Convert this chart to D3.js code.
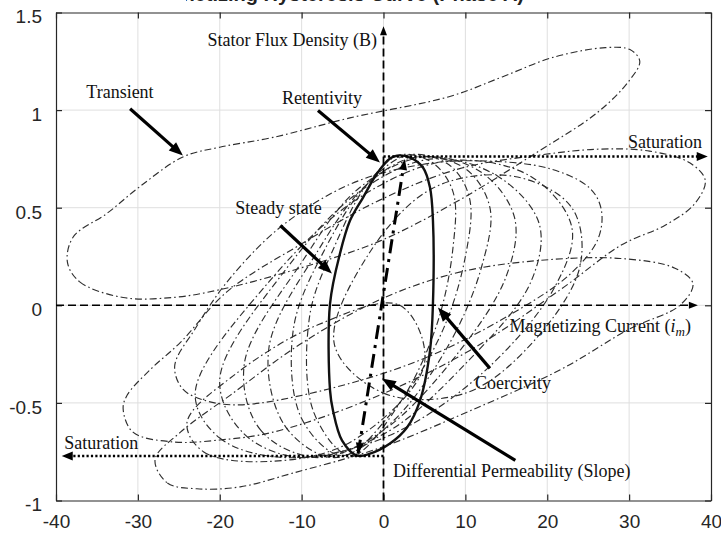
<!DOCTYPE html>
<html>
<head>
<meta charset="utf-8">
<script src="https://cdn.jsdelivr.net/npm/d3@7"></script>
<style>
  body { margin: 0; background: #fff; }
  svg { display: block; }
</style>
</head>
<body>
<div id="chart"></div>
<script>
// axis ticks
const xTicks = [-40, -30, -20, -10, 0, 10, 20, 30, 40];
const xTickLabels = ["-40", "-30", "-20", "-10", "0", "10", "20", "30", "40"];
const yTicks = [-1, -0.5, 0, 0.5, 1, 1.5];
const yTickLabels = ["-1", "-0.5", "0", "0.5", "1", "1.5"];

// transient loops (dash-dot) as [current, flux]
const loopT1 = [[-38.6, 0.22], [-37.1, 0.12], [-31.8, 0.04], [-25.7, 0.04], [-20.0, 0.08], [-10.2, 0.19], [-0.4, 0.33], [9.3, 0.54], [18.6, 0.78], [26.2, 0.99], [30.0, 1.15], [31.3, 1.25], [30.1, 1.31], [27.1, 1.32], [20.7, 1.27], [14.5, 1.17], [8.1, 1.07], [-4.1, 0.96], [-13.5, 0.86], [-20.0, 0.81], [-24.5, 0.76], [-29.7, 0.61], [-33.8, 0.47], [-37.9, 0.35]];
const loopT2 = [[-31.8, -0.53], [-30.6, -0.65], [-25.7, -0.70], [-20.0, -0.69], [-13.5, -0.65], [-1.6, -0.48], [10.6, -0.23], [21.6, 0.08], [29.1, 0.31], [34.4, 0.41], [38.0, 0.52], [39.3, 0.64], [37.4, 0.73], [32.5, 0.79], [26.4, 0.80], [19.1, 0.77], [9.3, 0.70], [-0.4, 0.54], [-10.2, 0.31], [-19.1, 0.07], [-24.8, -0.19], [-28.5, -0.33], [-31.3, -0.46]];
const loopT3 = [[-27.9, -0.79], [-26.4, -0.91], [-22.8, -0.94], [-17.5, -0.93], [-11.1, -0.86], [-0.4, -0.73], [10.6, -0.54], [21.6, -0.33], [30.1, -0.12], [36.2, 0.0], [37.8, 0.11], [35.6, 0.19], [28.9, 0.24], [19.1, 0.23], [9.3, 0.17], [-0.4, 0.03], [-10.2, -0.20], [-18.7, -0.46], [-24.8, -0.65]];
const loopT4 = [[-25.5, -0.31], [-24.5, -0.43], [-21.6, -0.49], [-17.5, -0.51], [-7.8, -0.44], [4.5, -0.28], [15.4, -0.05], [22.8, 0.16], [26.2, 0.34], [26.6, 0.49], [25.2, 0.60], [20.3, 0.70], [11.8, 0.74], [4.5, 0.72], [-4.1, 0.62], [-12.6, 0.40], [-19.1, 0.12], [-23.0, -0.12]];
const loopT5 = [[-23, -0.45], [-20, -0.68], [-12, -0.78], [0, -0.68], [12, -0.35], [21, 0.1], [23, 0.4], [18, 0.66], [8, 0.74], [-3, 0.55], [-14, 0.12]];
const loopT6 = [[-20, -0.38], [-17, -0.66], [-10, -0.78], [0, -0.66], [10, -0.3], [18, 0.12], [19, 0.42], [14, 0.66], [6, 0.75], [-3, 0.58], [-12, 0.18]];
const loopT7 = [[-17, -0.3], [-15, -0.64], [-8, -0.78], [0, -0.64], [9, -0.25], [15, 0.15], [16, 0.45], [12, 0.68], [5, 0.76], [-3, 0.6], [-10, 0.22]];
const loopT8 = [[-14, -0.22], [-12, -0.62], [-6, -0.78], [1, -0.6], [8, -0.2], [12, 0.2], [13, 0.5], [10, 0.7], [4, 0.76], [-2, 0.62], [-8, 0.28]];
const loopT9 = [[-11, -0.12], [-10, -0.58], [-5, -0.77], [1, -0.55], [7, -0.15], [10, 0.25], [10.5, 0.55], [8, 0.72], [3, 0.77], [-2, 0.62], [-7, 0.3]];
const loopT10 = [[-9, -0.05], [-8.5, -0.55], [-4, -0.77], [2, -0.5], [6.5, -0.1], [8.5, 0.3], [8.5, 0.58], [6, 0.73], [2, 0.77], [-2, 0.62], [-6, 0.3]];
const loopR1 = [[-6, -0.2], [0, -0.45], [10, -0.45], [18, -0.2], [24, 0.2], [23, 0.5], [16, 0.66], [6, 0.6], [-2, 0.25]];
const loopL1 = [[-24, -0.6], [-22, -0.75], [-14, -0.8], [-4, -0.7], [5, -0.3], [2, 0.0], [-8, -0.1], [-18, -0.35]];

// steady-state loop (bold)
const steadyLoop = [[1.65, 0.767], [3.24, 0.757], [4.82, 0.706], [5.68, 0.603], [6.04, 0.434], [6.04, 0.009], [5.68, -0.232], [4.46, -0.488], [2.87, -0.626], [0.79, -0.708], [-1.65, -0.76], [-3.24, -0.77], [-5.07, -0.692], [-6.17, -0.539], [-6.53, -0.436], [-6.53, 0.009], [-5.31, 0.266], [-4.09, 0.434], [-2.5, 0.552], [-0.79, 0.675], [0.79, 0.752]];

// annotations
const slopeLine = [[-3.1, -0.76], [2.6, 0.75]];
const satRight = [[0, 0.762], [39.6, 0.762]];
const satLeft = [[0, -0.772], [-39.3, -0.772]];
const axisH = [[-40, 0], [38.4, 0]];
const axisV = [[0, -1], [0, 1.43]];
const pointerArrows = [
  [[-30.95, 1.007], [-24.5, 0.767]],
  [[-8.0, 0.998], [-0.43, 0.732]],
  [[-12.6, 0.409], [-6.3, 0.163]],
  [[13.0, -0.323], [6.65, -0.011]],
  [[16.1, -0.795], [-0.2, -0.375]]
];
const labels = [
  { text: "Transient", x: -36.3, y: 1.064 },
  { text: "Retentivity", x: -12.4, y: 1.03 },
  { text: "Steady state", x: -18.1, y: 0.468 },
  { text: "Saturation", x: 29.85, y: 0.808 },
  { text: "Coercivity", x: 11.17, y: -0.43 },
  { text: "Saturation", x: -39.0, y: -0.738 },
  { text: "Differential Permeability (Slope)", x: 1.16, y: -0.88 }
];

const width = 721, height = 536;
const svg = d3.select("#chart").append("svg").attr("width", width).attr("height", height);

const x = d3.scaleLinear().domain([-40, 40]).range([56, 711]);
const y = d3.scaleLinear().domain([-1, 1.5]).range([500.5, 12.5]);

// title, only its bottom edge is inside the picture
svg.append("clipPath").attr("id", "tclip").append("rect").attr("x", 186).attr("y", 0).attr("width", 400).attr("height", 12);
svg.append("text")
  .attr("clip-path", "url(#tclip)")
  .attr("x", 524).attr("y", 1)
  .attr("text-anchor", "end")
  .style("font", "bold 20px 'Liberation Sans', Arial, sans-serif")
  .attr("fill", "#222")
  .text("Magnetizing Hysteresis Curve (Phase A)");

// grid
svg.append("g").selectAll("line").data(xTicks.slice(1, -1)).join("line")
  .attr("x1", d => x(d)).attr("x2", d => x(d)).attr("y1", y(-1)).attr("y2", y(1.5))
  .attr("stroke", "#dfdfdf").attr("stroke-width", 1);
svg.append("g").selectAll("line").data(yTicks.slice(1, -1)).join("line")
  .attr("x1", x(-40)).attr("x2", x(40)).attr("y1", d => y(d)).attr("y2", d => y(d))
  .attr("stroke", "#dfdfdf").attr("stroke-width", 1);

// axes (inward ticks, boxed)
const axColor = "#262626";
const fnt = "19px 'Liberation Sans', Arial, sans-serif";
const xb = svg.append("g").attr("transform", `translate(0,${y(-1)})`)
  .call(d3.axisBottom(x).tickValues(xTicks).tickSizeInner(-6).tickSizeOuter(0).tickPadding(14)
    .tickFormat((d, i) => xTickLabels[i]));
const xt = svg.append("g").attr("transform", `translate(0,${y(1.5)})`)
  .call(d3.axisTop(x).tickValues(xTicks).tickSizeInner(-6).tickSizeOuter(0).tickFormat(""));
const yl = svg.append("g").attr("transform", `translate(${x(-40)},0)`)
  .call(d3.axisLeft(y).tickValues(yTicks).tickSizeInner(-6).tickSizeOuter(0).tickPadding(14)
    .tickFormat((d, i) => yTickLabels[i]));
const yr = svg.append("g").attr("transform", `translate(${x(40)},0)`)
  .call(d3.axisRight(y).tickValues(yTicks).tickSizeInner(-6).tickSizeOuter(0).tickFormat(""));
[xb, xt, yl, yr].forEach(g => {
  g.select(".domain").attr("stroke", axColor).attr("stroke-width", 1.2);
  g.selectAll(".tick line").attr("stroke", axColor).attr("stroke-width", 1.2);
  g.selectAll(".tick text").style("font", fnt).attr("fill", axColor);
});
yl.selectAll(".tick text").attr("dy", "0.55em");

// transient loops
const loopLine = d3.line().x(d => x(d[0])).y(d => y(d[1])).curve(d3.curveCatmullRomClosed.alpha(0.5));
const loops = [loopT1, loopT2, loopT3, loopT4, loopT5, loopT6, loopT7, loopT8, loopT9, loopT10, loopR1, loopL1];
svg.append("g").selectAll("path").data(loops).join("path")
  .attr("d", loopLine)
  .attr("fill", "none")
  .attr("stroke", "#2e2e2e")
  .attr("stroke-width", 1.15)
  .attr("stroke-dasharray", "7,3,1.6,3");

// steady-state loop
svg.append("path").attr("d", loopLine(steadyLoop))
  .attr("fill", "none").attr("stroke", "#111").attr("stroke-width", 2.4);

// arrows
function arrow(pts, opt) {
  const x1 = x(pts[0][0]), y1 = y(pts[0][1]), x2 = x(pts[1][0]), y2 = y(pts[1][1]);
  const a = Math.atan2(y2 - y1, x2 - x1);
  const len = opt.head, w = opt.headW;
  const bx = x2 - len * Math.cos(a), by = y2 - len * Math.sin(a);
  svg.append("line")
    .attr("x1", x1).attr("y1", y1)
    .attr("x2", x2 - len * 0.7 * Math.cos(a)).attr("y2", y2 - len * 0.7 * Math.sin(a))
    .attr("stroke", "#000").attr("stroke-width", opt.sw)
    .attr("stroke-dasharray", opt.dash || null);
  const p = [[x2, y2], [bx + w / 2 * Math.sin(a), by - w / 2 * Math.cos(a)], [bx - w / 2 * Math.sin(a), by + w / 2 * Math.cos(a)]];
  svg.append("path").attr("d", d3.line()(p) + "Z").attr("fill", "#000");
}

arrow(axisH, { sw: 1.6, dash: "8,4", head: 9, headW: 7 });
arrow(axisV, { sw: 1.8, dash: "8,4", head: 9, headW: 7 });
arrow(satRight, { sw: 2.6, dash: "2.2,2.2", head: 11, headW: 9 });
arrow(satLeft, { sw: 2.6, dash: "2.2,2.2", head: 11, headW: 9 });
arrow(slopeLine, { sw: 3, dash: "14,6,3,6", head: 11, headW: 8 });
arrow([slopeLine[1], slopeLine[0]], { sw: 0, head: 11, headW: 8 });
pointerArrows.forEach(p => arrow(p, { sw: 3.2, head: 14, headW: 11 }));

// labels
const serif = "18px 'Liberation Serif', 'Times New Roman', serif";
svg.append("g").selectAll("text").data(labels).join("text")
  .attr("x", d => x(d.x)).attr("y", d => y(d.y))
  .style("font", serif).attr("fill", "#111")
  .text(d => d.text);

svg.append("text")
  .attr("x", x(-0.8)).attr("y", y(1.326))
  .attr("text-anchor", "end")
  .style("font", serif).attr("fill", "#111")
  .text("Stator Flux Density (B)");

const mc = svg.append("text")
  .attr("x", x(15.4)).attr("y", y(-0.139))
  .style("font", serif).attr("fill", "#111");
mc.append("tspan").text("Magnetizing Current (");
mc.append("tspan").style("font-style", "italic").text("i");
mc.append("tspan").style("font-style", "italic").style("font-size", "13px").attr("dy", 4).text("m");
mc.append("tspan").attr("dy", -4).text(")");
</script>
</body>
</html>
